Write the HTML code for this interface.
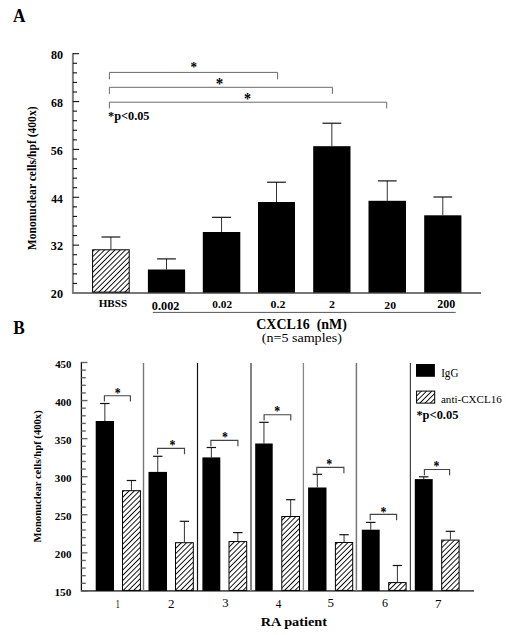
<!DOCTYPE html>
<html><head><meta charset="utf-8"><style>
html,body{margin:0;padding:0;background:#fff;}
body{width:506px;height:635px;overflow:hidden;}
svg{display:block;font-family:'Liberation Serif', serif;}
</style></head><body>
<svg width="506" height="635" viewBox="0 0 506 635" xml:space="preserve">
<defs><pattern id="hatch" patternUnits="userSpaceOnUse" width="3.68" height="10" patternTransform="rotate(45)"><rect x="0" y="0" width="0.9" height="10" fill="#000"/></pattern></defs>
<rect width="506" height="635" fill="#fff"/>
<line x1="72.90" y1="53.10" x2="72.90" y2="293.90" stroke="#808080" stroke-width="2.0"/>
<line x1="72.90" y1="293.00" x2="79.10" y2="293.00" stroke="#111" stroke-width="1.1"/>
<line x1="72.90" y1="283.43" x2="77.00" y2="283.43" stroke="#111" stroke-width="1.1"/>
<line x1="72.90" y1="273.86" x2="77.00" y2="273.86" stroke="#111" stroke-width="1.1"/>
<line x1="72.90" y1="264.28" x2="77.00" y2="264.28" stroke="#111" stroke-width="1.1"/>
<line x1="72.90" y1="254.71" x2="77.00" y2="254.71" stroke="#111" stroke-width="1.1"/>
<line x1="72.90" y1="245.14" x2="79.10" y2="245.14" stroke="#111" stroke-width="1.1"/>
<line x1="72.90" y1="235.57" x2="77.00" y2="235.57" stroke="#111" stroke-width="1.1"/>
<line x1="72.90" y1="226.00" x2="77.00" y2="226.00" stroke="#111" stroke-width="1.1"/>
<line x1="72.90" y1="216.42" x2="77.00" y2="216.42" stroke="#111" stroke-width="1.1"/>
<line x1="72.90" y1="206.85" x2="77.00" y2="206.85" stroke="#111" stroke-width="1.1"/>
<line x1="72.90" y1="197.28" x2="79.10" y2="197.28" stroke="#111" stroke-width="1.1"/>
<line x1="72.90" y1="187.71" x2="77.00" y2="187.71" stroke="#111" stroke-width="1.1"/>
<line x1="72.90" y1="178.14" x2="77.00" y2="178.14" stroke="#111" stroke-width="1.1"/>
<line x1="72.90" y1="168.56" x2="77.00" y2="168.56" stroke="#111" stroke-width="1.1"/>
<line x1="72.90" y1="158.99" x2="77.00" y2="158.99" stroke="#111" stroke-width="1.1"/>
<line x1="72.90" y1="149.42" x2="79.10" y2="149.42" stroke="#111" stroke-width="1.1"/>
<line x1="72.90" y1="139.85" x2="77.00" y2="139.85" stroke="#111" stroke-width="1.1"/>
<line x1="72.90" y1="130.28" x2="77.00" y2="130.28" stroke="#111" stroke-width="1.1"/>
<line x1="72.90" y1="120.70" x2="77.00" y2="120.70" stroke="#111" stroke-width="1.1"/>
<line x1="72.90" y1="111.13" x2="77.00" y2="111.13" stroke="#111" stroke-width="1.1"/>
<line x1="72.90" y1="101.56" x2="79.10" y2="101.56" stroke="#111" stroke-width="1.1"/>
<line x1="72.90" y1="91.99" x2="77.00" y2="91.99" stroke="#111" stroke-width="1.1"/>
<line x1="72.90" y1="82.42" x2="77.00" y2="82.42" stroke="#111" stroke-width="1.1"/>
<line x1="72.90" y1="72.84" x2="77.00" y2="72.84" stroke="#111" stroke-width="1.1"/>
<line x1="72.90" y1="63.27" x2="77.00" y2="63.27" stroke="#111" stroke-width="1.1"/>
<line x1="72.90" y1="53.70" x2="79.10" y2="53.70" stroke="#111" stroke-width="1.1"/>
<line x1="72.90" y1="292.90" x2="481.00" y2="292.90" stroke="#777" stroke-width="2.0"/>
<line x1="110.90" y1="249.30" x2="110.90" y2="237.00" stroke="#333" stroke-width="1.0"/>
<line x1="101.50" y1="237.00" x2="120.30" y2="237.00" stroke="#000" stroke-width="1.1"/>
<rect x="92.60" y="249.80" width="36.60" height="42.30" fill="url(#hatch)" stroke="#000" stroke-width="1"/>
<line x1="166.50" y1="269.50" x2="166.50" y2="258.90" stroke="#333" stroke-width="1.0"/>
<line x1="157.10" y1="258.90" x2="175.90" y2="258.90" stroke="#000" stroke-width="1.1"/>
<rect x="147.90" y="269.50" width="37.20" height="23.10" fill="#000"/>
<line x1="221.55" y1="232.00" x2="221.55" y2="217.30" stroke="#333" stroke-width="1.0"/>
<line x1="212.15" y1="217.30" x2="230.95" y2="217.30" stroke="#000" stroke-width="1.1"/>
<rect x="202.80" y="232.00" width="37.50" height="60.60" fill="#000"/>
<line x1="276.50" y1="202.00" x2="276.50" y2="182.20" stroke="#333" stroke-width="1.0"/>
<line x1="267.10" y1="182.20" x2="285.90" y2="182.20" stroke="#000" stroke-width="1.1"/>
<rect x="258.00" y="202.00" width="37.00" height="90.60" fill="#000"/>
<line x1="331.85" y1="146.20" x2="331.85" y2="123.20" stroke="#333" stroke-width="1.0"/>
<line x1="322.45" y1="123.20" x2="341.25" y2="123.20" stroke="#000" stroke-width="1.1"/>
<rect x="313.20" y="146.20" width="37.30" height="146.40" fill="#000"/>
<line x1="387.25" y1="200.80" x2="387.25" y2="180.90" stroke="#333" stroke-width="1.0"/>
<line x1="377.85" y1="180.90" x2="396.65" y2="180.90" stroke="#000" stroke-width="1.1"/>
<rect x="368.50" y="200.80" width="37.50" height="91.80" fill="#000"/>
<line x1="442.80" y1="215.30" x2="442.80" y2="197.00" stroke="#333" stroke-width="1.0"/>
<line x1="433.40" y1="197.00" x2="452.20" y2="197.00" stroke="#000" stroke-width="1.1"/>
<rect x="424.20" y="215.30" width="37.20" height="77.30" fill="#000"/>
<line x1="152.80" y1="312.40" x2="455.70" y2="312.40" stroke="#555" stroke-width="1"/>
<polyline points="109.4,79.40 109.4,72.40 277.6,72.40 277.6,79.40" fill="none" stroke="#6a6a6a" stroke-width="1"/>
<polyline points="109.4,93.90 109.4,87.30 332.4,87.30 332.4,93.90" fill="none" stroke="#6a6a6a" stroke-width="1"/>
<polyline points="109.4,108.40 109.4,102.20 386.7,102.20 386.7,108.40" fill="none" stroke="#6a6a6a" stroke-width="1"/>
<line x1="81.40" y1="361.90" x2="81.40" y2="591.50" stroke="#111" stroke-width="1.3"/>
<line x1="81.40" y1="590.90" x2="87.50" y2="590.90" stroke="#666" stroke-width="1.4"/>
<line x1="81.40" y1="583.29" x2="85.80" y2="583.29" stroke="#666" stroke-width="1.4"/>
<line x1="81.40" y1="575.67" x2="85.80" y2="575.67" stroke="#666" stroke-width="1.4"/>
<line x1="81.40" y1="568.06" x2="85.80" y2="568.06" stroke="#666" stroke-width="1.4"/>
<line x1="81.40" y1="560.45" x2="85.80" y2="560.45" stroke="#666" stroke-width="1.4"/>
<line x1="81.40" y1="552.83" x2="87.50" y2="552.83" stroke="#666" stroke-width="1.4"/>
<line x1="81.40" y1="545.22" x2="85.80" y2="545.22" stroke="#666" stroke-width="1.4"/>
<line x1="81.40" y1="537.61" x2="85.80" y2="537.61" stroke="#666" stroke-width="1.4"/>
<line x1="81.40" y1="529.99" x2="85.80" y2="529.99" stroke="#666" stroke-width="1.4"/>
<line x1="81.40" y1="522.38" x2="85.80" y2="522.38" stroke="#666" stroke-width="1.4"/>
<line x1="81.40" y1="514.77" x2="87.50" y2="514.77" stroke="#666" stroke-width="1.4"/>
<line x1="81.40" y1="507.15" x2="85.80" y2="507.15" stroke="#666" stroke-width="1.4"/>
<line x1="81.40" y1="499.54" x2="85.80" y2="499.54" stroke="#666" stroke-width="1.4"/>
<line x1="81.40" y1="491.93" x2="85.80" y2="491.93" stroke="#666" stroke-width="1.4"/>
<line x1="81.40" y1="484.31" x2="85.80" y2="484.31" stroke="#666" stroke-width="1.4"/>
<line x1="81.40" y1="476.70" x2="87.50" y2="476.70" stroke="#666" stroke-width="1.4"/>
<line x1="81.40" y1="469.09" x2="85.80" y2="469.09" stroke="#666" stroke-width="1.4"/>
<line x1="81.40" y1="461.47" x2="85.80" y2="461.47" stroke="#666" stroke-width="1.4"/>
<line x1="81.40" y1="453.86" x2="85.80" y2="453.86" stroke="#666" stroke-width="1.4"/>
<line x1="81.40" y1="446.25" x2="85.80" y2="446.25" stroke="#666" stroke-width="1.4"/>
<line x1="81.40" y1="438.63" x2="87.50" y2="438.63" stroke="#666" stroke-width="1.4"/>
<line x1="81.40" y1="431.02" x2="85.80" y2="431.02" stroke="#666" stroke-width="1.4"/>
<line x1="81.40" y1="423.41" x2="85.80" y2="423.41" stroke="#666" stroke-width="1.4"/>
<line x1="81.40" y1="415.79" x2="85.80" y2="415.79" stroke="#666" stroke-width="1.4"/>
<line x1="81.40" y1="408.18" x2="85.80" y2="408.18" stroke="#666" stroke-width="1.4"/>
<line x1="81.40" y1="400.57" x2="87.50" y2="400.57" stroke="#666" stroke-width="1.4"/>
<line x1="81.40" y1="392.95" x2="85.80" y2="392.95" stroke="#666" stroke-width="1.4"/>
<line x1="81.40" y1="385.34" x2="85.80" y2="385.34" stroke="#666" stroke-width="1.4"/>
<line x1="81.40" y1="377.73" x2="85.80" y2="377.73" stroke="#666" stroke-width="1.4"/>
<line x1="81.40" y1="370.11" x2="85.80" y2="370.11" stroke="#666" stroke-width="1.4"/>
<line x1="81.40" y1="362.50" x2="87.50" y2="362.50" stroke="#666" stroke-width="1.4"/>
<line x1="81.40" y1="590.90" x2="474.00" y2="590.90" stroke="#555" stroke-width="1.6"/>
<line x1="143.50" y1="363.00" x2="143.50" y2="590.90" stroke="#777" stroke-width="1.4"/>
<line x1="197.50" y1="363.00" x2="197.50" y2="590.90" stroke="#111" stroke-width="1.2"/>
<line x1="251.00" y1="363.00" x2="251.00" y2="590.90" stroke="#777" stroke-width="1.8"/>
<line x1="303.40" y1="363.00" x2="303.40" y2="590.90" stroke="#888" stroke-width="1.3"/>
<line x1="356.40" y1="363.00" x2="356.40" y2="590.90" stroke="#777" stroke-width="1.5"/>
<line x1="410.40" y1="363.00" x2="410.40" y2="590.90" stroke="#444" stroke-width="1.2"/>
<line x1="104.85" y1="421.00" x2="104.85" y2="403.50" stroke="#333" stroke-width="1.0"/>
<line x1="100.15" y1="403.50" x2="109.55" y2="403.50" stroke="#111" stroke-width="1.2"/>
<rect x="95.70" y="421.00" width="18.30" height="169.90" fill="#000"/>
<line x1="131.45" y1="490.20" x2="131.45" y2="480.50" stroke="#333" stroke-width="1.0"/>
<line x1="126.75" y1="480.50" x2="136.15" y2="480.50" stroke="#111" stroke-width="1.2"/>
<rect x="122.50" y="490.70" width="17.90" height="99.70" fill="url(#hatch)" stroke="#000" stroke-width="1"/>
<polyline points="104.4,401.50 104.4,395.7 130.4,395.7 130.4,401.50" fill="none" stroke="#444" stroke-width="1.15"/>
<line x1="157.75" y1="471.90" x2="157.75" y2="456.30" stroke="#333" stroke-width="1.0"/>
<line x1="153.05" y1="456.30" x2="162.45" y2="456.30" stroke="#111" stroke-width="1.2"/>
<rect x="148.50" y="471.90" width="18.50" height="119.00" fill="#000"/>
<line x1="184.40" y1="542.20" x2="184.40" y2="521.30" stroke="#333" stroke-width="1.0"/>
<line x1="179.70" y1="521.30" x2="189.10" y2="521.30" stroke="#111" stroke-width="1.2"/>
<rect x="175.50" y="542.70" width="17.80" height="47.70" fill="url(#hatch)" stroke="#000" stroke-width="1"/>
<polyline points="157.6,454.20 157.6,448.4 184.5,448.4 184.5,454.20" fill="none" stroke="#444" stroke-width="1.15"/>
<line x1="211.35" y1="457.40" x2="211.35" y2="447.50" stroke="#333" stroke-width="1.0"/>
<line x1="206.65" y1="447.50" x2="216.05" y2="447.50" stroke="#111" stroke-width="1.2"/>
<rect x="202.40" y="457.40" width="17.90" height="133.50" fill="#000"/>
<line x1="237.85" y1="541.10" x2="237.85" y2="532.60" stroke="#333" stroke-width="1.0"/>
<line x1="233.15" y1="532.60" x2="242.55" y2="532.60" stroke="#111" stroke-width="1.2"/>
<rect x="229.00" y="541.60" width="17.70" height="48.80" fill="url(#hatch)" stroke="#000" stroke-width="1"/>
<polyline points="210.9,446.20 210.9,440.4 237.9,440.4 237.9,446.20" fill="none" stroke="#444" stroke-width="1.15"/>
<line x1="263.95" y1="443.50" x2="263.95" y2="422.30" stroke="#333" stroke-width="1.0"/>
<line x1="259.25" y1="422.30" x2="268.65" y2="422.30" stroke="#111" stroke-width="1.2"/>
<rect x="255.20" y="443.50" width="17.50" height="147.40" fill="#000"/>
<line x1="290.65" y1="516.00" x2="290.65" y2="499.70" stroke="#333" stroke-width="1.0"/>
<line x1="285.95" y1="499.70" x2="295.35" y2="499.70" stroke="#111" stroke-width="1.2"/>
<rect x="281.80" y="516.50" width="17.70" height="73.90" fill="url(#hatch)" stroke="#000" stroke-width="1"/>
<polyline points="264.1,420.50 264.1,414.7 290.8,414.7 290.8,420.50" fill="none" stroke="#444" stroke-width="1.15"/>
<line x1="317.30" y1="487.50" x2="317.30" y2="474.30" stroke="#333" stroke-width="1.0"/>
<line x1="312.60" y1="474.30" x2="322.00" y2="474.30" stroke="#111" stroke-width="1.2"/>
<rect x="308.10" y="487.50" width="18.40" height="103.40" fill="#000"/>
<line x1="344.05" y1="542.00" x2="344.05" y2="534.70" stroke="#333" stroke-width="1.0"/>
<line x1="339.35" y1="534.70" x2="348.75" y2="534.70" stroke="#111" stroke-width="1.2"/>
<rect x="335.40" y="542.50" width="17.30" height="47.90" fill="url(#hatch)" stroke="#000" stroke-width="1"/>
<polyline points="316.8,473.20 316.8,467.4 343.9,467.4 343.9,473.20" fill="none" stroke="#444" stroke-width="1.15"/>
<line x1="370.75" y1="529.70" x2="370.75" y2="522.40" stroke="#333" stroke-width="1.0"/>
<line x1="366.05" y1="522.40" x2="375.45" y2="522.40" stroke="#111" stroke-width="1.2"/>
<rect x="361.80" y="529.70" width="17.90" height="61.20" fill="#000"/>
<line x1="397.40" y1="582.10" x2="397.40" y2="565.50" stroke="#333" stroke-width="1.0"/>
<line x1="392.70" y1="565.50" x2="402.10" y2="565.50" stroke="#111" stroke-width="1.2"/>
<rect x="388.70" y="582.60" width="17.40" height="7.80" fill="url(#hatch)" stroke="#000" stroke-width="1"/>
<polyline points="370.2,520.20 370.2,514.4 396.6,514.4 396.6,520.20" fill="none" stroke="#444" stroke-width="1.15"/>
<line x1="423.75" y1="479.10" x2="423.75" y2="476.80" stroke="#333" stroke-width="1.0"/>
<line x1="419.05" y1="476.80" x2="428.45" y2="476.80" stroke="#111" stroke-width="1.2"/>
<rect x="414.80" y="479.10" width="17.90" height="111.80" fill="#000"/>
<line x1="450.40" y1="539.60" x2="450.40" y2="531.30" stroke="#333" stroke-width="1.0"/>
<line x1="445.70" y1="531.30" x2="455.10" y2="531.30" stroke="#111" stroke-width="1.2"/>
<rect x="441.70" y="540.10" width="17.40" height="50.30" fill="url(#hatch)" stroke="#000" stroke-width="1"/>
<polyline points="424.4,475.30 424.4,469.5 449.6,469.5 449.6,475.30" fill="none" stroke="#444" stroke-width="1.15"/>
<rect x="416.00" y="364.00" width="18.90" height="12.80" fill="#000"/>
<rect x="416.60" y="391.10" width="18.10" height="12.00" fill="url(#hatch)" stroke="#000" stroke-width="1"/>
<text transform="translate(12.93,21.70) scale(0.1729,0.1848)" font-size="100" font-weight="bold" fill="#000">A</text>
<text transform="translate(50.94,58.87) scale(0.1204,0.1149)" font-size="100" font-weight="bold" fill="#000">80</text>
<text transform="translate(50.94,106.73) scale(0.1191,0.1149)" font-size="100" font-weight="bold" fill="#000">68</text>
<text transform="translate(50.82,154.59) scale(0.1204,0.1149)" font-size="100" font-weight="bold" fill="#000">56</text>
<text transform="translate(51.18,202.68) scale(0.1155,0.1185)" font-size="100" font-weight="bold" fill="#000">44</text>
<text transform="translate(50.81,250.31) scale(0.1217,0.1149)" font-size="100" font-weight="bold" fill="#000">32</text>
<text transform="translate(50.81,298.17) scale(0.1217,0.1149)" font-size="100" font-weight="bold" fill="#000">20</text>
<text transform="translate(36.08,250.13) rotate(-90) scale(0.1157,0.1154)" font-size="100" font-weight="bold" fill="#000">Mononuclear cells/hpf (400x)</text>
<text transform="translate(98.68,307.08) scale(0.1112,0.1104)" font-size="100" font-weight="bold" fill="#000">HBSS</text>
<text transform="translate(151.81,309.55) scale(0.1226,0.1269)" font-size="100" font-weight="bold" fill="#000">0.002</text>
<text transform="translate(212.35,307.69) scale(0.1126,0.1045)" font-size="100" font-weight="bold" fill="#000">0.02</text>
<text transform="translate(270.62,307.69) scale(0.1188,0.1045)" font-size="100" font-weight="bold" fill="#000">0.2</text>
<text transform="translate(329.02,308.49) scale(0.1190,0.1076)" font-size="100" font-weight="bold" fill="#000">2</text>
<text transform="translate(384.33,308.79) scale(0.1174,0.1045)" font-size="100" font-weight="bold" fill="#000">20</text>
<text transform="translate(437.32,307.66) scale(0.1197,0.1179)" font-size="100" font-weight="bold" fill="#000">200</text>
<text transform="translate(256.30,329.24) scale(0.1395,0.1456)" font-size="100" font-weight="bold" fill="#000">CXCL16&#160;&#160;(nM)</text>
<text transform="translate(261.74,342.41) scale(0.1409,0.1233)" font-size="100" fill="#000">(n=5 samples)</text>
<text transform="translate(190.58,71.66) scale(0.1310,0.1378)" font-size="100" font-weight="bold" fill="#000">*</text>
<text transform="translate(215.80,88.56) scale(0.1500,0.1595)" font-size="100" font-weight="bold" fill="#000">*</text>
<text transform="translate(243.94,104.36) scale(0.1405,0.1595)" font-size="100" font-weight="bold" fill="#000">*</text>
<text transform="translate(108.11,119.76) scale(0.1227,0.1209)" font-size="100" font-weight="bold" fill="#000">*p&lt;0.05</text>
<text transform="translate(13.35,333.90) scale(0.1726,0.1831)" font-size="100" font-weight="bold" fill="#000">B</text>
<text transform="translate(55.19,367.58) scale(0.1083,0.1119)" font-size="100" font-weight="bold" fill="#000">450</text>
<text transform="translate(55.19,405.64) scale(0.1083,0.1119)" font-size="100" font-weight="bold" fill="#000">400</text>
<text transform="translate(54.86,443.71) scale(0.1106,0.1119)" font-size="100" font-weight="bold" fill="#000">350</text>
<text transform="translate(54.86,481.78) scale(0.1106,0.1119)" font-size="100" font-weight="bold" fill="#000">300</text>
<text transform="translate(54.86,519.84) scale(0.1106,0.1119)" font-size="100" font-weight="bold" fill="#000">250</text>
<text transform="translate(54.86,557.91) scale(0.1106,0.1119)" font-size="100" font-weight="bold" fill="#000">200</text>
<text transform="translate(54.39,595.98) scale(0.1138,0.1103)" font-size="100" font-weight="bold" fill="#000">150</text>
<text transform="translate(40.56,542.41) rotate(-90) scale(0.1064,0.1066)" font-size="100" font-weight="bold" fill="#000">Mononuclear cells/hpf (400x)</text>
<text transform="translate(114.72,397.64) scale(0.1190,0.1405)" font-size="100" font-weight="bold" fill="#000">*</text>
<text transform="translate(115.78,607.50) scale(0.0800,0.1182)" font-size="100" fill="#000">1</text>
<text transform="translate(169.62,449.94) scale(0.1190,0.1405)" font-size="100" font-weight="bold" fill="#000">*</text>
<text transform="translate(168.08,607.50) scale(0.1300,0.1200)" font-size="100" fill="#000">2</text>
<text transform="translate(222.12,442.44) scale(0.1190,0.1405)" font-size="100" font-weight="bold" fill="#000">*</text>
<text transform="translate(222.27,607.38) scale(0.1268,0.1182)" font-size="100" fill="#000">3</text>
<text transform="translate(274.32,416.44) scale(0.1190,0.1405)" font-size="100" font-weight="bold" fill="#000">*</text>
<text transform="translate(275.67,607.50) scale(0.1130,0.1200)" font-size="100" fill="#000">4</text>
<text transform="translate(326.32,468.54) scale(0.1190,0.1405)" font-size="100" font-weight="bold" fill="#000">*</text>
<text transform="translate(327.62,607.38) scale(0.1300,0.1182)" font-size="100" fill="#000">5</text>
<text transform="translate(380.52,516.54) scale(0.1190,0.1405)" font-size="100" font-weight="bold" fill="#000">*</text>
<text transform="translate(381.92,607.27) scale(0.1209,0.1164)" font-size="100" fill="#000">6</text>
<text transform="translate(433.52,471.14) scale(0.1190,0.1405)" font-size="100" font-weight="bold" fill="#000">*</text>
<text transform="translate(435.09,607.50) scale(0.1300,0.1200)" font-size="100" fill="#000">7</text>
<text transform="translate(260.71,626.39) scale(0.1430,0.1289)" font-size="100" font-weight="bold" fill="#000">RA patient</text>
<text transform="translate(441.16,376.88) scale(0.1108,0.1151)" font-size="100" fill="#000">IgG</text>
<text transform="translate(440.96,403.38) scale(0.1105,0.1118)" font-size="100" fill="#000">anti-CXCL16</text>
<text transform="translate(416.40,419.33) scale(0.1245,0.1174)" font-size="100" font-weight="bold" fill="#000">*p&lt;0.05</text>
</svg>
</body></html>
